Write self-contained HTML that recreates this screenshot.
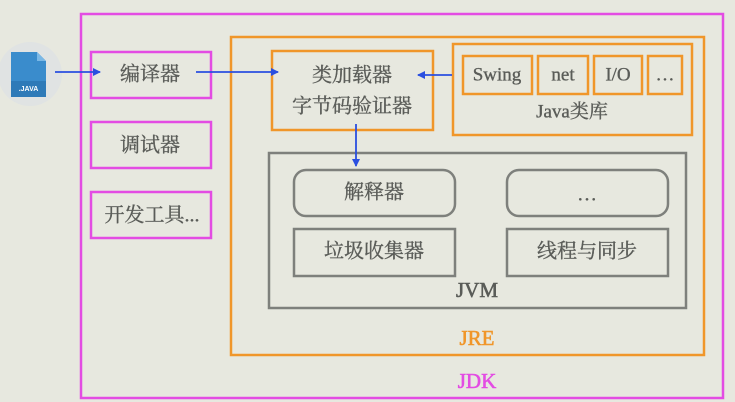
<!DOCTYPE html>
<html><head><meta charset="utf-8"><style>
html,body{margin:0;padding:0;background:#e7e8df;}
svg{display:block}
text{font-family:"Liberation Serif","Noto Serif CJK SC",serif;fill:#5a5c58;stroke:#5a5c58;stroke-width:0.35;text-anchor:middle;dominant-baseline:middle}
</style></head><body>
<svg width="735" height="402" viewBox="0 0 735 402" xmlns="http://www.w3.org/2000/svg">
<rect width="735" height="402" fill="#e7e8df"/>
<defs><marker id="ah" markerWidth="8" markerHeight="8" refX="7" refY="4" orient="auto" markerUnits="userSpaceOnUse"><path d="M0,0 L8,4 L0,8 z" fill="#2a4fe0"/></marker></defs>
<circle cx="30" cy="74" r="32" fill="#e0e3e3"/>
<path d="M11,52 h26 l9,9 v36 h-35 z" fill="#3a8ccc"/>
<path d="M37,52 l9,9 h-9 z" fill="#7ab8e6"/>
<rect x="11" y="81" width="35" height="16" fill="#2e7ab8"/>
<text x="28.5" y="89" style="font-family:'Liberation Sans',sans-serif;font-size:7px;font-weight:bold;fill:#fff;stroke:none">.JAVA</text>
<rect x="81" y="14" width="642" height="384" fill="none" stroke="#e34ce3" stroke-width="2.5"/>
<rect x="91" y="52" width="120" height="46" fill="none" stroke="#e34ce3" stroke-width="2.5"/>
<rect x="91" y="122" width="120" height="46" fill="none" stroke="#e34ce3" stroke-width="2.5"/>
<rect x="91" y="192" width="120" height="46" fill="none" stroke="#e34ce3" stroke-width="2.5"/>
<text x="150" y="76" font-size="20">编译器</text>
<text x="150" y="147" font-size="20">调试器</text>
<text x="152" y="217" font-size="20">开发工具...</text>
<text x="477" y="383" font-size="21" style="fill:#e34ce3;stroke:#e34ce3;stroke-width:0.6">JDK</text>
<rect x="231" y="37" width="473" height="318" fill="none" stroke="#f0962a" stroke-width="2.5"/>
<text x="477" y="340" font-size="21" style="fill:#f0962a;stroke:#f0962a;stroke-width:0.6">JRE</text>
<rect x="272" y="51" width="161" height="79" fill="none" stroke="#f0962a" stroke-width="2.5"/>
<text x="352" y="77" font-size="20">类加载器</text>
<text x="352" y="108" font-size="20">字节码验证器</text>
<rect x="453" y="44" width="239" height="91" fill="none" stroke="#f0962a" stroke-width="2.5"/>
<rect x="463" y="56" width="69" height="38" fill="none" stroke="#f0962a" stroke-width="2.5"/>
<rect x="538" y="56" width="50" height="38" fill="none" stroke="#f0962a" stroke-width="2.5"/>
<rect x="594" y="56" width="48" height="38" fill="none" stroke="#f0962a" stroke-width="2.5"/>
<rect x="648" y="56" width="34" height="38" fill="none" stroke="#f0962a" stroke-width="2.5"/>
<text x="497" y="76" font-size="19">Swing</text>
<text x="563" y="76" font-size="19">net</text>
<text x="618" y="76" font-size="19">I/O</text>
<text x="665" y="76" font-size="19">…</text>
<text x="572" y="113" font-size="19">Java类库</text>
<rect x="269" y="153" width="417" height="155" fill="none" stroke="#7e807c" stroke-width="2.5"/>
<rect x="294" y="170" width="161" height="46" rx="12" fill="none" stroke="#7e807c" stroke-width="2.5"/>
<rect x="507" y="170" width="161" height="46" rx="12" fill="none" stroke="#7e807c" stroke-width="2.5"/>
<rect x="294" y="229" width="161" height="47" fill="none" stroke="#7e807c" stroke-width="2.5"/>
<rect x="507" y="229" width="161" height="47" fill="none" stroke="#7e807c" stroke-width="2.5"/>
<text x="374" y="194" font-size="20">解释器</text>
<text x="587" y="196" font-size="20">…</text>
<text x="374" y="253" font-size="20">垃圾收集器</text>
<text x="587" y="253" font-size="20">线程与同步</text>
<text x="477" y="292" font-size="21" style="stroke-width:0.6">JVM</text>
<g stroke="#2a4fe0" stroke-width="1.8" fill="none">
<line x1="55" y1="72" x2="100" y2="72" marker-end="url(#ah)"/>
<line x1="196" y1="72" x2="278" y2="72" marker-end="url(#ah)"/>
<line x1="452" y1="75" x2="418" y2="75" marker-end="url(#ah)"/>
<line x1="356" y1="124" x2="356" y2="166" marker-end="url(#ah)"/>
</g>
</svg>
</body></html>
